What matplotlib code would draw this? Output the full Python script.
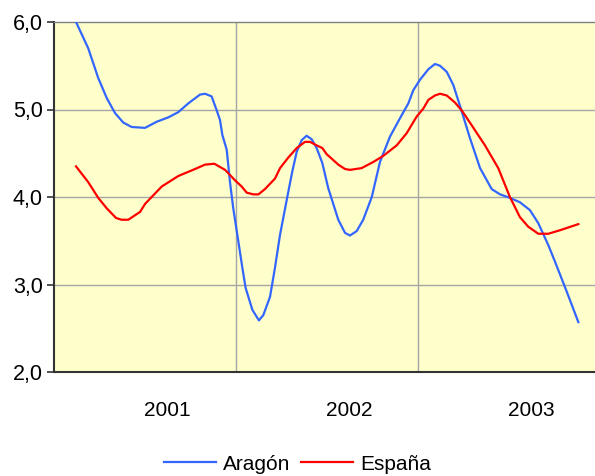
import matplotlib
matplotlib.use("Agg")
import matplotlib.pyplot as plt
from matplotlib.ticker import FuncFormatter

# Datos (año decimal, tasa)
aragon_x = [2001.121, 2001.188, 2001.243, 2001.290, 2001.335, 2001.381, 2001.427, 2001.500,
            2001.564, 2001.628, 2001.683, 2001.738, 2001.802, 2001.830, 2001.866, 2001.894,
            2001.912, 2001.925, 2001.949, 2001.967, 2001.985, 2002.013, 2002.035, 2002.053,
            2002.090, 2002.126, 2002.150, 2002.187, 2002.214, 2002.242, 2002.279, 2002.309,
            2002.334, 2002.361, 2002.388, 2002.416, 2002.443, 2002.474, 2002.507, 2002.562,
            2002.599, 2002.626, 2002.663, 2002.699, 2002.746, 2002.791, 2002.846, 2002.901,
            2002.947, 2002.974, 2003.011, 2003.057, 2003.093, 2003.121, 2003.158, 2003.194,
            2003.231, 2003.286, 2003.341, 2003.405, 2003.451, 2003.505, 2003.560, 2003.615,
            2003.661, 2003.716, 2003.753, 2003.817, 2003.881]
aragon_y = [6.00, 5.70, 5.36, 5.13, 4.96, 4.85, 4.80, 4.79,
            4.86, 4.91, 4.97, 5.07, 5.17, 5.18, 5.15, 4.99,
            4.88, 4.71, 4.54, 4.17, 3.87, 3.49, 3.19, 2.96,
            2.71, 2.59, 2.65, 2.86, 3.19, 3.57, 3.97, 4.29,
            4.52, 4.65, 4.70, 4.66, 4.56, 4.39, 4.10, 3.74,
            3.59, 3.56, 3.61, 3.74, 4.00, 4.40, 4.69, 4.90,
            5.07, 5.22, 5.34, 5.46, 5.52, 5.50, 5.43, 5.28,
            5.04, 4.67, 4.33, 4.09, 4.03, 3.99, 3.94, 3.85,
            3.70, 3.45, 3.26, 2.92, 2.57]

espana_x = [2001.121, 2001.188, 2001.243, 2001.290, 2001.341, 2001.372, 2001.408, 2001.473,
            2001.500, 2001.592, 2001.683, 2001.775, 2001.830, 2001.881, 2001.940, 2001.995,
            2002.031, 2002.059, 2002.095, 2002.123, 2002.159, 2002.214, 2002.242, 2002.287,
            2002.334, 2002.379, 2002.407, 2002.443, 2002.474, 2002.498, 2002.562, 2002.599,
            2002.626, 2002.690, 2002.754, 2002.809, 2002.883, 2002.938, 2002.993, 2003.029,
            2003.057, 2003.093, 2003.121, 2003.158, 2003.203, 2003.240, 2003.295, 2003.368,
            2003.441, 2003.505, 2003.560, 2003.606, 2003.661, 2003.716, 2003.780, 2003.881]
espana_y = [4.35, 4.17, 3.99, 3.87, 3.76, 3.74, 3.74, 3.83,
            3.92, 4.12, 4.24, 4.32, 4.37, 4.38, 4.31, 4.19,
            4.12, 4.05, 4.03, 4.03, 4.09, 4.21, 4.33, 4.45,
            4.56, 4.63, 4.63, 4.59, 4.56, 4.49, 4.37, 4.32,
            4.31, 4.33, 4.40, 4.47, 4.59, 4.73, 4.92, 5.01,
            5.11, 5.16, 5.18, 5.16, 5.08, 4.99, 4.82, 4.59,
            4.33, 4.00, 3.77, 3.66, 3.58, 3.58, 3.62, 3.69]

anios = ["2001", "2002", "2003"]
pos_anios = [2001.62, 2002.62, 2003.62]
limites = [2002, 2003]

plt.rcParams['font.family'] = ['Liberation Sans', 'DejaVu Sans']

fig = plt.figure(figsize=(5.95, 4.76), dpi=100)
ax = fig.add_axes([54 / 595, 1 - 372 / 476, 541 / 595, 350 / 476])
ax.set_facecolor('#FFFFCC')

for y in [3, 4, 5]:
    ax.axhline(y, color='#A6A6A6', lw=1, zorder=1)
for x in limites:
    ax.axvline(x, color='#A6A6A6', lw=1, zorder=1)

ax.plot(aragon_x, aragon_y, color='#3366FF', lw=1.6, label='Aragón', zorder=3)
ax.plot(espana_x, espana_y, color='#FF0000', lw=1.6, label='España', zorder=3)

ax.set_xlim(2001, 2001 + 541 / 182)
ax.set_ylim(2, 6)
ax.set_yticks([2, 3, 4, 5, 6])
ax.yaxis.set_major_formatter(FuncFormatter(lambda v, p: f"{v:.1f}".replace('.', ',')))
ax.set_xticks(pos_anios)
ax.set_xticklabels(anios)
ax.tick_params(axis='x', length=0, pad=21, labelsize=15)
ax.tick_params(axis='y', length=5, width=1.2, color='#333333', pad=3, labelsize=15.5)

ax.spines['left'].set_color('#333333')
ax.spines['left'].set_linewidth(1.5)
ax.spines['bottom'].set_color('#333333')
ax.spines['bottom'].set_linewidth(1.5)
ax.spines['top'].set_color('#808080')
ax.spines['top'].set_linewidth(1)
ax.spines['right'].set_visible(False)

fig.legend(loc='center', bbox_to_anchor=(0.5, 1 - 464 / 476), ncol=2, frameon=False,
           fontsize=15, handlelength=2.5, handletextpad=0.35, columnspacing=0.5)

fig.savefig('out.png', dpi=100)
